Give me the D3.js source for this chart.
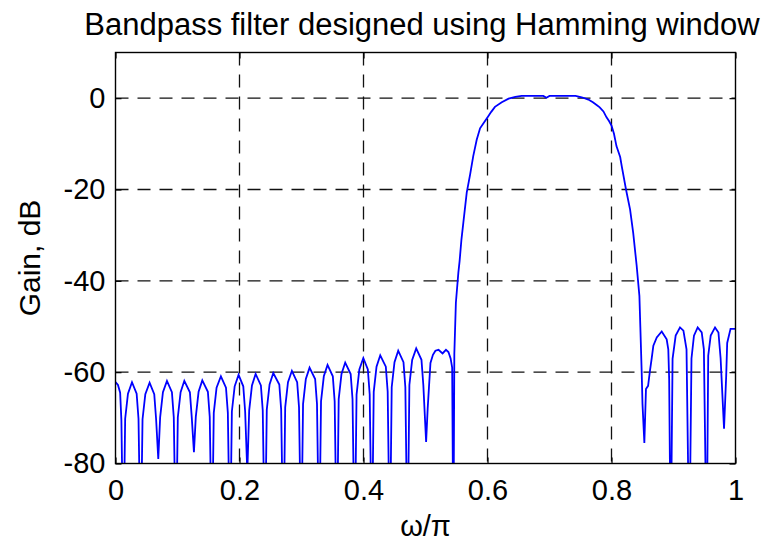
<!DOCTYPE html>
<html>
<head>
<meta charset="utf-8">
<script src="https://cdn.jsdelivr.net/npm/d3@7"></script>
<style>
  html, body { margin: 0; padding: 0; background: #fff; }
  svg { display: block; font-family: "Liberation Sans", Arial, Helvetica, sans-serif; }
</style>
</head>
<body>
<div id="chart"></div>
<script>
// [omega/pi, gain dB]. -100 means the null runs past the bottom edge.
const lowerStopband = [
  [0, -62.2], [0.004, -62.8], [0.0075, -64.5], [0.0095, -70.5], [0.0126, -100],
  [0.0156, -70.2], [0.0201, -64.7], [0.0266, -62.2], [0.0341, -64.7], [0.0371, -70.2], [0.0406, -100],
  [0.0436, -70.3], [0.0481, -64.8], [0.055, -62.3], [0.0625, -64.8], [0.0655, -70.3], [0.069, -79],
  [0.072, -69.9], [0.0765, -64.4], [0.083, -61.9], [0.091, -64.4], [0.094, -69.9], [0.0975, -100],
  [0.1005, -69.9], [0.105, -64.4], [0.111, -61.9], [0.12, -64.4], [0.123, -69.9], [0.1265, -77.5],
  [0.1295, -69.8], [0.134, -64.3], [0.14, -61.8], [0.149, -64.3], [0.152, -69.8], [0.1555, -100],
  [0.1585, -68.9], [0.163, -63.4], [0.17, -60.9], [0.1782, -63.4], [0.1812, -68.9], [0.1847, -100],
  [0.1877, -68.6], [0.1922, -63.1], [0.1985, -60.6], [0.2061, -63.1], [0.2091, -68.6], [0.2126, -82],
  [0.2156, -68.4], [0.2201, -62.9], [0.226, -60.4], [0.2345, -62.9], [0.2375, -68.4], [0.241, -100],
  [0.244, -68.2], [0.2485, -62.7], [0.2545, -60.2], [0.2642, -62.7], [0.2672, -68.2], [0.2707, -100],
  [0.2737, -67.7], [0.2782, -62.2], [0.2845, -59.7], [0.293, -62.2], [0.296, -67.7], [0.2995, -100],
  [0.3025, -67.0], [0.307, -61.5], [0.313, -59.0], [0.322, -61.5], [0.325, -67.0], [0.3285, -100],
  [0.3315, -66.4], [0.336, -60.9], [0.342, -58.4], [0.3505, -60.9], [0.3535, -66.4], [0.357, -100],
  [0.36, -65.9], [0.3645, -60.4], [0.3705, -57.9], [0.3793, -60.4], [0.3823, -65.9], [0.3858, -100],
  [0.3888, -64.9], [0.3933, -59.4], [0.3997, -56.9], [0.407, -59.4], [0.41, -64.9], [0.4135, -100],
  [0.4165, -64.3], [0.421, -58.8], [0.427, -56.3], [0.436, -58.8], [0.439, -64.3], [0.4425, -100],
  [0.4455, -63.3], [0.45, -57.8], [0.456, -55.3], [0.4645, -57.8], [0.4675, -63.3], [0.471, -100],
  [0.474, -62.8], [0.4785, -57.3], [0.485, -54.8], [0.4935, -57.3], [0.4965, -62.8], [0.501, -75.3],
  [0.5035, -68.0], [0.5055, -63.5], [0.508, -58.0], [0.512, -56.2], [0.516, -55.3], [0.521, -55.1],
  [0.5275, -55.9], [0.533, -55.1], [0.537, -55.6], [0.5405, -57.0], [0.543, -59.0], [0.545, -100]
];

const risingEdge = [
  [0.5465, -56], [0.549, -44.8], [0.553, -38.2], [0.555, -35.7], [0.558, -30.9], [0.561, -27.3],
  [0.5665, -20.7], [0.572, -16.7], [0.577, -12.7], [0.5826, -9.1], [0.588, -6.6], [0.596, -5.0],
  [0.601, -4.0], [0.606, -3.0], [0.612, -1.9], [0.623, -0.9]
];

const passband = [
  [0.634, -0.1], [0.645, 0.3], [0.655, 0.5], [0.69, 0.5], [0.695, 0.1], [0.70, 0.5],
  [0.742, 0.5], [0.752, 0.2], [0.7627, -0.3]
];

const fallingEdge = [
  [0.77, -0.9], [0.776, -1.5], [0.781, -2.0], [0.787, -2.9], [0.792, -4.2], [0.796, -5.0],
  [0.80, -6.0], [0.804, -7.8], [0.808, -10.5], [0.814, -12.9], [0.8165, -14.9], [0.8234, -20],
  [0.83, -24.4], [0.835, -29.5], [0.8406, -36.7], [0.845, -43.3], [0.8465, -50], [0.8487, -60],
  [0.85, -67], [0.853, -75.5]
];

const upperStopband = [
  [0.8556, -63.7], [0.859, -63.0], [0.862, -59.7], [0.865, -56.8], [0.8675, -54.2], [0.873, -52.4],
  [0.881, -51.1], [0.889, -52.8], [0.8916, -55.0], [0.893, -61.5], [0.8955, -100],
  [0.8985, -57.1], [0.9035, -52.0], [0.9105, -50.2], [0.916, -50.9], [0.921, -55.0], [0.9255, -100],
  [0.929, -57.0], [0.933, -52.0], [0.939, -50.2], [0.9455, -51.3], [0.949, -55.0], [0.9535, -100],
  [0.956, -56.4], [0.96, -52.0], [0.967, -50.2], [0.9725, -51.3], [0.976, -57.0], [0.9815, -72.4],
  [0.985, -60.8], [0.9866, -53.6], [0.992, -50.5], [1.0, -50.5]
];

const xTicks = [0, 0.2, 0.4, 0.6, 0.8, 1];
const yTicks = [-80, -60, -40, -20, 0];
const xDomain = [0, 1];
const yDomain = [-80, 10];

const WIDTH = 767;
const HEIGHT = 547;
const margin = { top: 52.5, right: 31.5, bottom: 83.5, left: 115.5 };
const innerW = WIDTH - margin.left - margin.right;
const innerH = HEIGHT - margin.top - margin.bottom;

const svg = d3.select('#chart')
  .append('svg')
  .attr('width', WIDTH)
  .attr('height', HEIGHT);

const g = svg.append('g').attr('transform', `translate(${margin.left},${margin.top})`);

const x = d3.scaleLinear().domain(xDomain).range([0, innerW]);
const y = d3.scaleLinear().domain(yDomain).range([innerH, 0]);

svg.append('defs').append('clipPath').attr('id', 'plot-clip')
  .append('rect').attr('width', innerW).attr('height', innerH);

// dashed grid, skipping lines that sit on the box
const grid = g.append('g').attr('class', 'grid');

grid.selectAll('line.vx')
  .data(xTicks.filter((d) => d > 0 && d < 1))
  .join('line')
  .attr('class', 'vx')
  .attr('x1', (d) => x(d)).attr('x2', (d) => x(d))
  .attr('y1', 0).attr('y2', innerH);

grid.selectAll('line.hy')
  .data(yTicks.filter((d) => d > -80))
  .join('line')
  .attr('class', 'hy')
  .attr('x1', 0).attr('x2', innerW)
  .attr('y1', (d) => y(d)).attr('y2', (d) => y(d));

grid.selectAll('line')
  .attr('stroke', '#111')
  .attr('stroke-width', 1.3)
  .attr('stroke-dasharray', '13,9');

const response = [...lowerStopband, ...risingEdge, ...passband, ...fallingEdge, ...upperStopband];

const line = d3.line()
  .x((d) => x(d[0]))
  .y((d) => y(d[1]));

g.append('path')
  .datum(response)
  .attr('clip-path', 'url(#plot-clip)')
  .attr('fill', 'none')
  .attr('stroke', '#0000ff')
  .attr('stroke-width', 1.8)
  .attr('stroke-linejoin', 'miter')
  .attr('d', line);

// axes: MATLAB style, ticks pointing inward on all four sides
const TICK = 6;
const fmt = d3.format('~g');

g.append('g')
  .attr('transform', `translate(0,${innerH})`)
  .call(d3.axisBottom(x).tickValues(xTicks).tickFormat(fmt).tickSizeInner(-TICK).tickSizeOuter(0).tickPadding(16));

g.append('g')
  .call(d3.axisLeft(y).tickValues(yTicks).tickFormat((d) => String(d)).tickSizeInner(-TICK).tickSizeOuter(0).tickPadding(10));

g.append('g')
  .call(d3.axisTop(x).tickValues(xTicks).tickFormat('').tickSizeInner(-TICK).tickSizeOuter(0));

g.append('g')
  .attr('transform', `translate(${innerW},0)`)
  .call(d3.axisRight(y).tickValues(yTicks).tickFormat('').tickSizeInner(-TICK).tickSizeOuter(0));

g.selectAll('.domain').remove();
g.selectAll('.tick line').attr('stroke', '#000').attr('stroke-width', 1.2);
g.selectAll('.tick text')
  .attr('fill', '#000')
  .style('font-size', '29px');

g.append('rect')
  .attr('width', innerW)
  .attr('height', innerH)
  .attr('fill', 'none')
  .attr('stroke', '#000')
  .attr('stroke-width', 1.4);

svg.append('text')
  .attr('x', 422)
  .attr('y', 35)
  .attr('text-anchor', 'middle')
  .style('font-size', '31px')
  .text('Bandpass filter designed using Hamming window');

svg.append('text')
  .attr('x', margin.left + innerW / 2)
  .attr('y', 536)
  .attr('text-anchor', 'middle')
  .style('font-size', '29px')
  .text('ω/π');

svg.append('text')
  .attr('transform', `translate(40,${margin.top + innerH / 2}) rotate(-90)`)
  .attr('text-anchor', 'middle')
  .style('font-size', '30px')
  .text('Gain, dB');
</script>
</body>
</html>
